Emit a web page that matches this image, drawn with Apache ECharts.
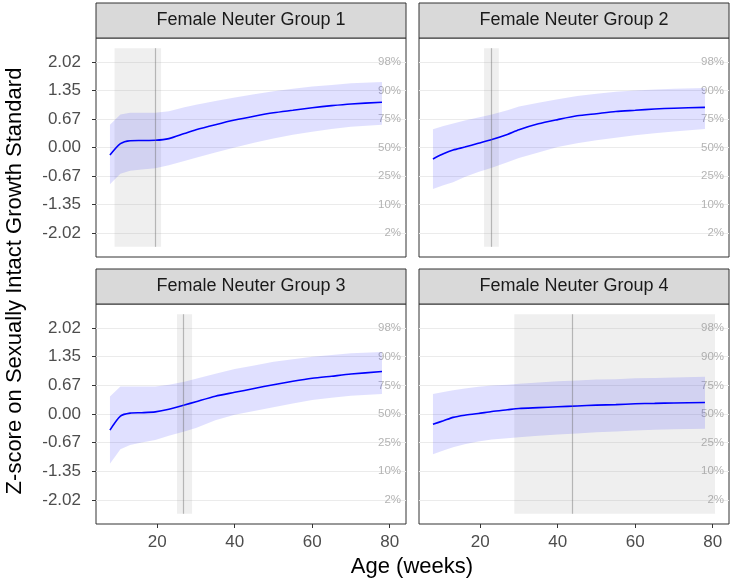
<!DOCTYPE html>
<html>
<head>
<meta charset="utf-8">
<script src="https://cdn.jsdelivr.net/npm/echarts@6/dist/echarts.min.js"></script>
<style>html,body{margin:0;padding:0;background:#fff;}#c{width:732px;height:582px;}</style>
</head>
<body>
<div id="c"></div>
<script>
// ---- data ----
const panelTitles = ['Female Neuter Group 1', 'Female Neuter Group 2', 'Female Neuter Group 3', 'Female Neuter Group 4'];
const ages = [7.8, 10.5, 13, 16, 19.5, 23, 27, 30, 35, 40, 45, 50, 55, 60, 65, 70, 78];

const g1Mid = [-0.18, 0.09, 0.16, 0.165, 0.17, 0.21, 0.33, 0.42, 0.54, 0.65, 0.74, 0.82, 0.88, 0.94, 0.99, 1.03, 1.07];
const g1Hi  = [0.54, 0.78, 0.82, 0.82, 0.82, 0.86, 0.95, 1.01, 1.10, 1.18, 1.26, 1.33, 1.39, 1.44, 1.48, 1.52, 1.55];
const g1Lo  = [-0.87, -0.62, -0.55, -0.52, -0.49, -0.42, -0.32, -0.24, -0.12, 0.0, 0.11, 0.21, 0.30, 0.37, 0.44, 0.49, 0.54];

const g2Mid = [-0.27, -0.15, -0.06, 0.01, 0.10, 0.19, 0.31, 0.42, 0.56, 0.66, 0.75, 0.80, 0.85, 0.88, 0.91, 0.93, 0.95];
const g2Hi  = [0.43, 0.51, 0.57, 0.64, 0.71, 0.78, 0.88, 0.97, 1.06, 1.14, 1.22, 1.27, 1.32, 1.35, 1.37, 1.39, 1.41];
const g2Lo  = [-0.98, -0.89, -0.82, -0.70, -0.58, -0.48, -0.35, -0.25, -0.12, 0.01, 0.10, 0.17, 0.23, 0.29, 0.34, 0.38, 0.44];

const g3Mid = [-0.38, -0.05, 0.02, 0.03, 0.05, 0.11, 0.21, 0.29, 0.42, 0.51, 0.60, 0.69, 0.77, 0.84, 0.89, 0.94, 1.00];
const g3Hi  = [0.41, 0.65, 0.65, 0.65, 0.65, 0.69, 0.76, 0.83, 0.95, 1.06, 1.14, 1.23, 1.29, 1.35, 1.39, 1.43, 1.46];
const g3Lo  = [-1.17, -0.83, -0.73, -0.67, -0.61, -0.51, -0.41, -0.33, -0.15, -0.02, 0.07, 0.16, 0.25, 0.33, 0.38, 0.43, 0.47];

const g4Mid = [-0.24, -0.16, -0.08, -0.03, 0.01, 0.06, 0.10, 0.13, 0.15, 0.17, 0.19, 0.21, 0.22, 0.24, 0.25, 0.26, 0.27];
const g4Hi  = [0.47, 0.52, 0.56, 0.60, 0.64, 0.67, 0.69, 0.71, 0.74, 0.77, 0.79, 0.81, 0.82, 0.84, 0.85, 0.86, 0.88];
const g4Lo  = [-0.95, -0.86, -0.78, -0.71, -0.65, -0.60, -0.57, -0.55, -0.51, -0.48, -0.46, -0.43, -0.41, -0.39, -0.37, -0.36, -0.35];

const neuterAge = [19.4, 22.8, 26.6, 43.7];
const neuterWinLo = [9.0, 21.0, 25.1, 28.8];
const neuterWinHi = [21.0, 24.8, 29.0, 80.6];
const windowZ = [-2.35, 2.35];

const zTicks = [-2.022, -1.348, -0.674, 0, 0.674, 1.348, 2.022];
const zTickLabels = ['-2.02', '-1.35', '-0.67', '0.00', '0.67', '1.35', '2.02'];
const pctLabels = ['2%', '10%', '25%', '50%', '75%', '90%', '98%'];
const xTicks = [20, 40, 60, 80];

// ---- layout ----
const mids = [g1Mid, g2Mid, g3Mid, g4Mid];
const his = [g1Hi, g2Hi, g3Hi, g4Hi];
const los = [g1Lo, g2Lo, g3Lo, g4Lo];
const FONT = '"Liberation Sans", Arial, sans-serif';
const grids = [
  {left: 96, top: 38, width: 310, height: 219},
  {left: 419, top: 38, width: 310, height: 219},
  {left: 96, top: 304, width: 310, height: 220},
  {left: 419, top: 304, width: 310, height: 220}
];
const STRIP_H = 35;

const option = {
  animation: false,
  backgroundColor: '#fff',
  grid: grids.map(g => Object.assign({show: true, borderColor: '#333', borderWidth: 1, backgroundColor: '#fff', containLabel: false}, g)),
  xAxis: grids.map((g, i) => ({
    type: 'value', gridIndex: i, min: 4.2, max: 84.2, position: 'bottom',
    axisLine: {show: false, onZero: false},
    axisTick: {show: i >= 2, customValues: xTicks, length: 4, lineStyle: {color: '#333', width: 1}},
    axisLabel: {show: i >= 2, customValues: xTicks, color: '#4d4d4d', fontSize: 17, fontFamily: FONT, margin: 10},
    splitLine: {show: false}
  })),
  yAxis: [],
  series: [],
  graphic: []
};

grids.forEach((g, i) => {
  option.yAxis.push({
    type: 'value', gridIndex: i, min: -2.59, max: 2.59, position: 'left',
    axisLine: {show: false, onZero: false},
    axisTick: {show: i % 2 === 0, customValues: zTicks, length: 4, lineStyle: {color: '#333', width: 1}},
    axisLabel: {show: i % 2 === 0, customValues: zTicks, color: '#4d4d4d', fontSize: 17, fontFamily: FONT, margin: 15,
      formatter: v => { const k = zTicks.findIndex(t => Math.abs(t - v) < 1e-6); return k >= 0 ? zTickLabels[k] : ''; }},
    splitLine: {show: true, lineStyle: {color: '#ebebeb', width: 1.2}}
  });
  option.yAxis.push({
    type: 'value', gridIndex: i, min: -2.59, max: 2.59, position: 'right',
    axisLine: {show: false, onZero: false}, axisTick: {show: false}, splitLine: {show: false},
    axisLabel: {show: true, inside: true, customValues: zTicks, color: '#b3b3b3', fontSize: 11.5, fontFamily: FONT, margin: 5,
      formatter: v => { const k = zTicks.findIndex(t => Math.abs(t - v) < 1e-6); return k >= 0 ? pctLabels[k] : ''; }}
  });

  const bandData = ages.map((a, k) => [a, los[i][k], his[i][k]]);
  option.series.push({
    type: 'custom', xAxisIndex: i, yAxisIndex: 2 * i, z: 3, silent: true,
    data: bandData,
    renderItem: function (params, api) {
      if (params.dataIndex !== 0) return null;
      const pts = [];
      bandData.forEach(d => pts.push(api.coord([d[0], d[2]])));
      for (let k = bandData.length - 1; k >= 0; k--) pts.push(api.coord([bandData[k][0], bandData[k][1]]));
      return {type: 'polygon', shape: {points: pts}, style: {fill: 'rgba(0,0,255,0.12)', stroke: null}};
    }
  });
  option.series.push({
    type: 'line', xAxisIndex: i, yAxisIndex: 2 * i, z: 4, silent: true,
    data: ages.map((a, k) => [a, mids[i][k]]),
    symbol: 'none', smooth: 0.25,
    lineStyle: {color: '#0000ff', width: 1.6},
    markArea: {
      silent: true, z: 1,
      itemStyle: {color: 'rgba(150,150,150,0.15)'},
      data: [[{coord: [neuterWinLo[i], windowZ[0]]}, {coord: [neuterWinHi[i], windowZ[1]]}]]
    },
    markLine: {
      silent: true, symbol: ['none', 'none'], label: {show: false},
      lineStyle: {color: 'rgba(110,110,110,0.45)', width: 1.2, type: 'solid'},
      data: [[{coord: [neuterAge[i], windowZ[0]]}, {coord: [neuterAge[i], windowZ[1]]}]]
    }
  });

  option.graphic.push({
    type: 'rect', shape: {x: g.left, y: g.top - STRIP_H, width: g.width, height: STRIP_H},
    style: {fill: '#d9d9d9', stroke: '#333', lineWidth: 1}, z: 10
  });
  option.graphic.push({
    type: 'text', x: g.left + g.width / 2, y: g.top - STRIP_H / 2,
    style: {text: panelTitles[i], fill: '#1a1a1a', font: '18px ' + FONT, textAlign: 'center', textVerticalAlign: 'middle'}, z: 11
  });
});

option.graphic.push({
  type: 'text', x: 412, y: 567,
  style: {text: 'Age (weeks)', fill: '#000', font: '22px ' + FONT, textAlign: 'center', textVerticalAlign: 'middle'}
});
option.graphic.push({
  type: 'text', x: 15, y: 281, rotation: Math.PI / 2,
  style: {text: 'Z-score on Sexually Intact Growth Standard', fill: '#000', font: '22px ' + FONT, textAlign: 'center', textVerticalAlign: 'middle'}
});

const chart = echarts.init(document.getElementById('c'), null, {renderer: 'canvas'});
chart.setOption(option);
</script>
</body>
</html>
